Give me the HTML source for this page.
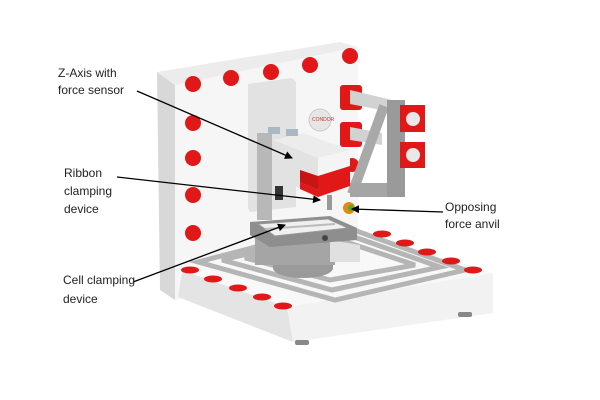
<!DOCTYPE html>
<html><head><style>
html,body{margin:0;padding:0;background:#fff;}
svg{display:block;}
text{font-family:"Liberation Sans",sans-serif;font-size:12px;fill:#222;}
</style></head><body>
<svg width="600" height="400" viewBox="0 0 600 400" xmlns="http://www.w3.org/2000/svg">
<defs>
<marker id="ah" markerWidth="8" markerHeight="8" refX="7" refY="4" orient="auto" markerUnits="userSpaceOnUse">
<path d="M0,0 L8,4 L0,8 z" fill="#000"/></marker>
</defs>
<!-- back panel -->
<polygon points="157,72 175,85 175,300 160,290" fill="#d8d8d8"/>
<polygon points="157,72 340,42 358,47 175,85" fill="#ececec"/>
<polygon points="175,85 358,47 358,260 175,300" fill="#f6f6f6"/>
<polygon points="248,84 292,78 296,82 296,207 250,212 248,208" fill="#e2e2e2"/>
<circle cx="320" cy="120" r="11" fill="#e6e6e6" stroke="#ccc"/>
<text x="312" y="121" style="font-size:5px;fill:#c33">CONDOR</text>
<!-- panel dots -->
<g fill="#e01818">
<circle cx="193" cy="84" r="8"/><circle cx="231" cy="78" r="8"/><circle cx="271" cy="72" r="8"/><circle cx="310" cy="65" r="8"/><circle cx="350" cy="56" r="8"/>
<circle cx="193" cy="123" r="8"/><circle cx="193" cy="158" r="8"/><circle cx="193" cy="195" r="8"/><circle cx="193" cy="233" r="8"/>
</g>
<!-- cylinders and mounts -->
<rect x="340" y="85" width="22" height="25" rx="3" fill="#e01818"/>
<rect x="340" y="122" width="22" height="25" rx="3" fill="#e01818"/>
<circle cx="352" cy="165" r="7" fill="#e01818"/>
<polygon points="350,90 392,100 392,112 350,104" fill="#d2d2d2"/>
<polygon points="350,127 382,133 382,145 350,140" fill="#d2d2d2"/>
<!-- arm -->
<line x1="384" y1="106" x2="352" y2="194" stroke="#a9a9a9" stroke-width="10"/>
<rect x="350" y="183" width="55" height="14" fill="#a5a5a5"/>
<rect x="387" y="100" width="18" height="97" fill="#9a9a9a"/>
<rect x="400" y="105" width="25" height="27" fill="#e01818"/>
<circle cx="413" cy="119" r="7" fill="#e8e8e8"/>
<rect x="400" y="142" width="25" height="26" fill="#e01818"/>
<circle cx="413" cy="155" r="7" fill="#e8e8e8"/>
<!-- base -->
<polygon points="183,268 287,307 293,342 178,297" fill="#e4e4e4"/>
<polygon points="287,307 493,273 493,313 293,342" fill="#f2f2f2"/>
<polygon points="175,268 358,230 493,273 287,307" fill="#f8f8f8"/>
<rect x="295" y="340" width="14" height="5" rx="2" fill="#888"/>
<rect x="458" y="312" width="14" height="5" rx="2" fill="#888"/>
<!-- squares -->
<g fill="none" stroke="#b5b5b5" stroke-width="5">
<polygon points="198,262 340,225 465,270 335,300"/>
<polygon points="222,260 340,232 440,267 332,290"/>
<polygon points="245,258 340,240 415,265 330,280"/>
</g>
<!-- base pills -->
<g fill="#e01818">
<ellipse cx="190" cy="270" rx="9" ry="3.5"/><ellipse cx="213" cy="279" rx="9" ry="3.5"/><ellipse cx="238" cy="288" rx="9" ry="3.5"/><ellipse cx="262" cy="297" rx="9" ry="3.5"/><ellipse cx="283" cy="306" rx="9" ry="3.5"/>
<ellipse cx="382" cy="234" rx="9" ry="3.5"/><ellipse cx="405" cy="243" rx="9" ry="3.5"/><ellipse cx="427" cy="252" rx="9" ry="3.5"/><ellipse cx="451" cy="261" rx="9" ry="3.5"/><ellipse cx="473" cy="270" rx="9" ry="3.5"/>
</g>
<!-- stage -->
<ellipse cx="303" cy="268" rx="30" ry="10" fill="#9a9a9a"/>
<rect x="273" y="250" width="60" height="18" fill="#9a9a9a"/>
<polygon points="255,237 335,235 335,265 255,265" fill="#a5a5a5"/>
<polygon points="330,240 360,245 360,262 330,262" fill="#e0e0e0"/>
<polygon points="250,222 330,216 357,228 357,240 270,247 250,235" fill="#8e8e8e"/>
<polygon points="258,224 328,219 348,228 275,236" fill="#f0f0f0" stroke="#999"/>
<line x1="265" y1="229" x2="335" y2="224" stroke="#bbb" stroke-width="2"/>
<circle cx="325" cy="238" r="3" fill="#444"/>
<!-- z axis -->
<rect x="257" y="133" width="15" height="87" fill="#b8b8b8"/>
<rect x="275" y="186" width="8" height="14" fill="#333"/>
<polygon points="273,140 303,133 350,150 318,158" fill="#ececec"/>
<polygon points="273,140 318,158 318,197 273,176" fill="#e2e2e2"/>
<polygon points="318,158 350,150 350,186 318,197" fill="#f4f4f4"/>
<polygon points="300,182 318,190 350,178 350,186 318,197 300,189" fill="#e01818"/>
<polygon points="318,176 350,166 350,180 318,190" fill="#e01818"/>
<polygon points="300,170 318,176 318,190 300,182" fill="#c81414"/>
<rect x="268" y="127" width="12" height="7" fill="#aab8c4"/>
<rect x="286" y="129" width="12" height="7" fill="#aab8c4"/>
<rect x="327" y="195" width="5" height="15" fill="#999"/>
<circle cx="349" cy="208" r="6" fill="#e08a10"/>
<circle cx="351" cy="208" r="3" fill="#4a4"/>
<!-- callouts -->
<g stroke="#000" stroke-width="1.3" marker-end="url(#ah)">
<line x1="137" y1="91" x2="292" y2="158"/>
<line x1="117" y1="177" x2="320" y2="200"/>
<line x1="443" y1="212" x2="352" y2="209"/>
<line x1="133" y1="282" x2="285" y2="225"/>
</g>
<text x="58" y="77">Z-Axis with</text>
<text x="58" y="94">force sensor</text>
<text x="64" y="177">Ribbon</text>
<text x="64" y="195">clamping</text>
<text x="64" y="213">device</text>
<text x="445" y="211">Opposing</text>
<text x="445" y="228">force anvil</text>
<text x="63" y="284">Cell clamping</text>
<text x="63" y="303">device</text>
</svg>
</body></html>
